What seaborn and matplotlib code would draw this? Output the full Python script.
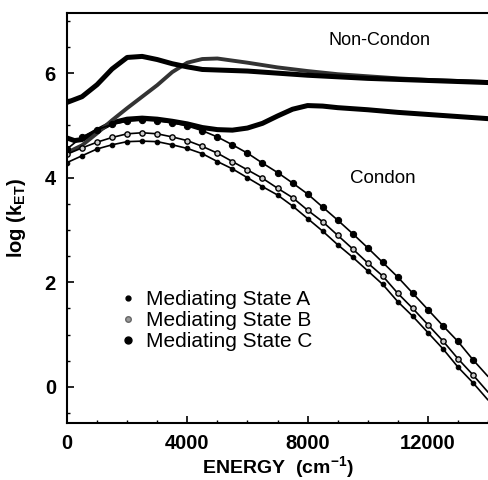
import numpy as np
import pandas as pd
import matplotlib
matplotlib.use("Agg")
import matplotlib.pyplot as plt
import seaborn as sns
from matplotlib.lines import Line2D
from matplotlib.ticker import MultipleLocator

sns.set_theme(style="ticks")
plt.rcParams['font.family'] = ['Liberation Sans', 'DejaVu Sans']
plt.rcParams['mathtext.fontset'] = 'custom'
plt.rcParams['mathtext.rm'] = 'Liberation Sans:bold'
plt.rcParams['mathtext.bf'] = 'Liberation Sans:bold'
plt.rcParams['mathtext.it'] = 'Liberation Sans:bold'
for k in ['text.color', 'axes.labelcolor', 'xtick.color', 'ytick.color', 'axes.edgecolor']:
    plt.rcParams[k] = 'black'

# ---- Condon curves (markers every 500 cm^-1) ----
energy_condon = list(range(0, 14001, 500))
condon_A = [4.29, 4.42, 4.55, 4.63, 4.69, 4.70, 4.69, 4.63, 4.56, 4.46, 4.31, 4.17, 4.00, 3.83,
            3.67, 3.46, 3.22, 2.98, 2.72, 2.48, 2.22, 1.96, 1.63, 1.35, 1.04, 0.73, 0.38, 0.08, -0.25]
condon_B = [4.45, 4.57, 4.68, 4.77, 4.84, 4.86, 4.84, 4.78, 4.71, 4.60, 4.47, 4.31, 4.15, 3.99,
            3.80, 3.62, 3.38, 3.16, 2.90, 2.64, 2.37, 2.12, 1.79, 1.50, 1.19, 0.88, 0.54, 0.23, -0.10]
condon_C = [4.55, 4.78, 4.92, 5.02, 5.08, 5.10, 5.09, 5.05, 4.99, 4.90, 4.78, 4.63, 4.47, 4.28,
            4.10, 3.90, 3.69, 3.44, 3.19, 2.93, 2.66, 2.38, 2.10, 1.79, 1.48, 1.17, 0.87, 0.52, 0.20]

# ---- Non-Condon curves ----
energy_nc_A = [0, 250, 500, 1000, 1500, 2000, 2500, 3000, 3500, 4000, 4500, 5000, 5500, 6000,
               6500, 7000, 7500, 8000, 8500, 9000, 10000, 11000, 12000, 13000, 14000]
nc_A = [4.76, 4.71, 4.73, 4.90, 5.05, 5.12, 5.14, 5.12, 5.08, 5.03, 4.96, 4.92, 4.91, 4.95,
        5.04, 5.18, 5.31, 5.38, 5.37, 5.34, 5.30, 5.25, 5.21, 5.17, 5.13]
energy_nc_B = [0, 500, 1000, 1500, 2000, 2500, 3000, 3500, 4000, 4500, 5000, 5500, 6000,
               7000, 8000, 9000, 10000, 11000, 12000, 13000, 14000]
nc_B = [4.48, 4.62, 4.85, 5.10, 5.33, 5.55, 5.77, 6.02, 6.20, 6.27, 6.28, 6.24, 6.20,
        6.11, 6.04, 5.98, 5.94, 5.90, 5.87, 5.85, 5.83]
energy_nc_C = [0, 500, 1000, 1500, 2000, 2500, 3000, 3500, 4000, 4500, 5000, 6000, 7000,
               8000, 9000, 10000, 11000, 12000, 13000, 14000]
nc_C = [5.44, 5.55, 5.78, 6.08, 6.30, 6.32, 6.26, 6.18, 6.12, 6.07, 6.06, 6.04, 6.00,
        5.96, 5.93, 5.90, 5.88, 5.86, 5.84, 5.82]

legend_labels = ["Mediating State A", "Mediating State B", "Mediating State C"]
x_ticks = [0, 4000, 8000, 12000]
y_ticks = [0, 2, 4, 6]

fig = plt.figure(figsize=(4.88, 4.80), dpi=100)
ax = fig.add_axes([67/488, 57/480, 421/488, 410/480])

# non-Condon thick lines
sns.lineplot(x=energy_nc_A, y=nc_A, ax=ax, color='black', linewidth=3.6, sort=False)
sns.lineplot(x=energy_nc_B, y=nc_B, ax=ax, color='0.2', linewidth=2.8, sort=False)
sns.lineplot(x=energy_nc_C, y=nc_C, ax=ax, color='black', linewidth=3.6, sort=False)

# Condon lines with markers
mk = slice(0, -1)
sns.lineplot(x=energy_condon, y=condon_A, ax=ax, color='black', linewidth=1.2,
             marker='o', markersize=3.3, markerfacecolor='black', markeredgecolor='black',
             markevery=mk, sort=False)
sns.lineplot(x=energy_condon, y=condon_B, ax=ax, color='black', linewidth=1.2,
             marker='o', markersize=3.8, markerfacecolor='0.8', markeredgecolor='black',
             markeredgewidth=1.0, markevery=mk, sort=False)
sns.lineplot(x=energy_condon, y=condon_C, ax=ax, color='black', linewidth=1.2,
             marker='o', markersize=4.5, markerfacecolor='black', markeredgecolor='black',
             markevery=mk, sort=False)

ax.set_xlim(0, 14000)
ax.set_ylim(-0.69, 7.15)
ax.set_xticks(x_ticks)
ax.set_yticks(y_ticks)
ax.xaxis.set_minor_locator(MultipleLocator(1000))
ax.yaxis.set_minor_locator(MultipleLocator(0.5))
ax.tick_params(which='major', direction='in', length=5, width=1.2, labelsize=14.5, pad=8,
               colors='black')
ax.tick_params(which='minor', direction='in', length=2.5, width=1, colors='black')
for lab in ax.get_xticklabels() + ax.get_yticklabels():
    lab.set_fontweight('bold')
for s in ['left', 'bottom', 'top']:
    ax.spines[s].set_linewidth(1.5)
    ax.spines[s].set_color('black')
ax.spines['right'].set_visible(False)

ax.set_xlabel(r'ENERGY  (cm$^{-1}$)', fontsize=14, fontweight='bold', labelpad=1)
ax.set_ylabel(r'log (k$_{ET}$)', fontsize=14.5, fontweight='bold', labelpad=12)

ax.text(10400, 6.62, 'Non-Condon', fontsize=13, ha='center', va='center')
ax.text(10500, 3.98, 'Condon', fontsize=13.5, ha='center', va='center')

handles = [
    Line2D([], [], ls='none', marker='o', markersize=3.5, color='black'),
    Line2D([], [], ls='none', marker='o', markersize=4, markerfacecolor='0.6', markeredgecolor='0.4'),
    Line2D([], [], ls='none', marker='o', markersize=5, color='black'),
]
ax.legend(handles, legend_labels, loc='upper left', bbox_to_anchor=(0.10, 0.345),
          frameon=False, fontsize=15, handlelength=1.0, handletextpad=0.35,
          labelspacing=0.1, borderaxespad=0)

fig.savefig('out.png', dpi=100)
